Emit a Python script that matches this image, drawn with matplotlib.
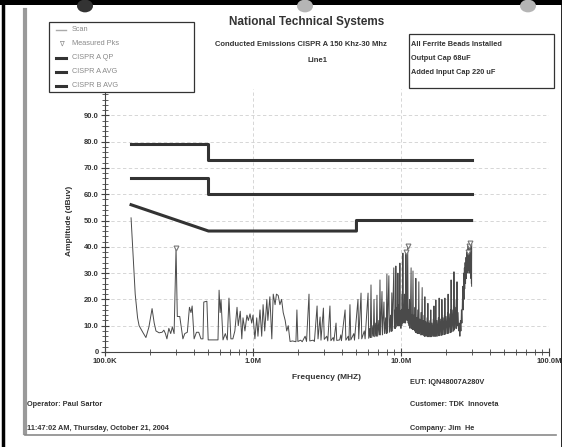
import matplotlib
matplotlib.use("Agg")
import matplotlib.pyplot as plt
from matplotlib.patches import Rectangle, Circle
from matplotlib.lines import Line2D
from matplotlib.ticker import FixedLocator, NullFormatter

plt.rcParams["font.family"] = ["Liberation Sans", "DejaVu Sans"]
plt.rcParams["font.weight"] = "bold"

W, H = 562, 447

# scan trace as (MHz, dBuV) pairs
scan_low = [
    (0.150, 51.0), (0.155, 36.0), (0.160, 22.0), (0.166, 13.0), (0.170, 10.0),
    (0.180, 7.5), (0.189, 5.5), (0.198, 9.5), (0.208, 16.5), (0.215, 11.0),
    (0.221, 8.0), (0.232, 7.3), (0.243, 7.5), (0.250, 8.3), (0.256, 7.0),
    (0.262, 5.0), (0.270, 9.0), (0.278, 7.0), (0.285, 9.5), (0.293, 7.0),
    (0.302, 39.5), (0.308, 13.5), (0.320, 13.5), (0.336, 5.0), (0.346, 7.0),
    (0.360, 7.5), (0.372, 17.0), (0.381, 15.0), (0.388, 17.5), (0.400, 5.0),
    (0.415, 7.5), (0.430, 7.5), (0.445, 5.0), (0.459, 5.0), (0.465, 19.0),
    (0.488, 19.3), (0.498, 4.6), (0.580, 4.6), (0.590, 23.5), (0.600, 15.0),
    (0.608, 20.0), (0.627, 4.6), (0.650, 7.0), (0.670, 4.6), (0.688, 20.5),
    (0.709, 5.0), (0.731, 5.0), (0.754, 8.0), (0.780, 17.0), (0.795, 10.0),
    (0.820, 15.5), (0.840, 5.0), (0.856, 13.0), (0.882, 8.0), (0.910, 14.0),
    (0.930, 12.0), (0.955, 14.5), (0.980, 11.0), (1.000, 14.0), (1.030, 5.0),
    (1.060, 13.0), (1.080, 6.0), (1.115, 16.0), (1.145, 6.0), (1.170, 18.0),
    (1.200, 8.0), (1.240, 20.0), (1.260, 12.0), (1.300, 21.0), (1.340, 5.0),
    (1.370, 22.0), (1.410, 18.0), (1.440, 22.0), (1.480, 21.5), (1.520, 18.0),
    (1.560, 20.0), (1.600, 15.0), (1.650, 12.0), (1.690, 8.0), (1.730, 10.0),
    (1.780, 4.0), (1.850, 4.2), (1.950, 3.9), (1.980, 16.0), (2.010, 4.0),
    (2.100, 4.5), (2.150, 3.9), (2.250, 6.0), (2.300, 4.0), (2.390, 22.0),
    (2.420, 4.2), (2.550, 4.5), (2.600, 4.0), (2.710, 17.5), (2.750, 5.0),
    (2.840, 13.3), (2.880, 4.5), (2.990, 16.7), (3.030, 4.8), (3.150, 6.0),
    (3.200, 4.2), (3.310, 17.5), (3.360, 4.3), (3.480, 5.5), (3.520, 4.2),
    (3.640, 11.0), (3.680, 4.4), (3.850, 4.6), (3.920, 6.5), (3.960, 4.3),
    (4.190, 16.0), (4.240, 4.5), (4.400, 6.0), (4.450, 4.4), (4.520, 18.0),
    (4.580, 4.6), (4.800, 7.0), (4.850, 4.5), (5.120, 20.0), (5.180, 5.0),
    (5.370, 22.4), (5.430, 5.0), (5.650, 8.0), (5.720, 5.0), (5.990, 22.4),
    (6.050, 5.2), (6.150, 9.0), (6.200, 5.5), (6.270, 25.5), (6.340, 5.5),
    (6.450, 10.0), (6.500, 6.0), (6.570, 20.0), (6.640, 5.8), (6.750, 11.0),
    (6.800, 6.0), (6.880, 21.6), (6.950, 6.0), (7.080, 12.0), (7.140, 6.5),
    (7.210, 27.4), (7.280, 6.5), (7.440, 23.0), (7.500, 6.5), (7.670, 19.0),
    (7.740, 7.0), (7.880, 13.0), (7.950, 7.0), (8.030, 29.6), (8.100, 7.2),
    (8.280, 29.0), (8.350, 7.5), (8.500, 14.0), (8.580, 7.8), (8.670, 22.5),
    (8.740, 8.0), (8.940, 32.0), (9.020, 9.0), (9.120, 16.0), (9.180, 9.0),
    (9.230, 32.7), (9.300, 9.5), (9.420, 17.0), (9.480, 10.0), (9.530, 30.0),
    (9.600, 10.0), (9.700, 18.0), (9.760, 10.0), (9.830, 33.8),
]
scan_high = [
    (9.88, 10.0), (9.93, 15.0), (9.98, 9.0), (10.05, 16.0), (10.12, 10.0),
    (10.18, 22.0), (10.24, 11.0), (10.30, 37.6), (10.36, 12.0), (10.42, 18.0),
    (10.48, 11.0), (10.55, 22.0), (10.62, 12.0), (10.68, 17.0), (10.74, 11.0),
    (10.80, 38.0), (10.86, 13.0), (10.92, 19.0), (10.98, 12.0), (11.10, 40.3),
    (11.18, 11.0), (11.26, 16.0), (11.34, 10.0), (11.42, 20.0), (11.50, 9.0),
    (11.58, 15.0), (11.70, 32.0), (11.78, 9.0), (11.86, 14.0), (11.94, 8.5),
    (12.05, 30.8), (12.14, 8.5), (12.24, 14.0), (12.34, 8.0), (12.44, 17.0),
    (12.52, 7.5), (12.60, 28.0), (12.68, 7.5), (12.78, 13.0), (12.88, 7.0),
    (12.98, 16.0), (13.08, 7.0), (13.20, 26.7), (13.28, 7.0), (13.40, 12.5),
    (13.52, 6.5), (13.64, 15.0), (13.76, 6.5), (13.90, 24.5), (13.98, 6.5),
    (14.10, 12.0), (14.22, 6.2), (14.35, 14.0), (14.42, 6.0), (14.50, 21.0),
    (14.58, 6.0), (14.72, 11.5), (14.86, 6.0), (15.00, 13.0), (15.10, 5.8),
    (15.20, 18.5), (15.30, 5.8), (15.45, 11.0), (15.60, 5.8), (15.75, 12.0),
    (15.82, 5.8), (15.90, 16.0), (16.00, 5.8), (16.18, 11.0), (16.35, 6.0),
    (16.52, 12.5), (16.62, 6.0), (16.70, 17.5), (16.80, 6.0), (16.95, 12.0),
    (17.08, 6.0), (17.20, 19.8), (17.32, 6.0), (17.50, 12.0), (17.68, 6.0),
    (17.88, 13.0), (18.00, 6.2), (18.10, 20.5), (18.22, 6.2), (18.42, 12.5),
    (18.60, 6.3), (18.78, 13.5), (18.84, 6.4), (18.90, 20.0), (19.02, 6.5),
    (19.25, 13.0), (19.45, 6.6), (19.65, 14.0), (19.72, 6.7), (19.80, 20.5),
    (19.92, 6.8), (20.15, 13.5), (20.40, 7.0), (20.62, 15.0), (20.70, 7.0),
    (20.80, 22.0), (20.92, 7.2), (21.15, 14.5), (21.40, 7.3), (21.62, 16.0),
    (21.70, 7.5), (21.80, 27.4), (21.92, 7.6), (22.15, 16.0), (22.40, 7.8),
    (22.62, 18.0), (22.70, 8.0), (22.80, 30.5), (22.92, 8.5), (23.15, 17.0),
    (23.40, 9.0), (23.65, 20.0), (23.75, 9.0), (23.90, 26.7), (24.05, 10.0),
    (24.30, 15.0), (24.55, 8.0), (24.80, 11.0), (25.00, 6.0), (25.20, 12.0),
    (25.40, 8.0), (25.60, 16.0), (25.80, 11.0), (26.00, 20.0), (26.20, 25.0),
    (26.35, 16.0), (26.50, 30.0), (26.65, 20.0), (26.80, 32.0), (26.95, 24.0),
    (27.10, 34.0), (27.30, 26.0), (27.50, 36.0), (27.65, 28.0), (27.80, 38.0),
    (27.95, 30.0), (28.10, 39.0), (28.25, 31.0), (28.40, 40.7), (28.55, 32.0),
    (28.70, 40.0), (28.85, 30.0), (29.00, 39.0), (29.10, 33.0), (29.20, 41.5),
    (29.35, 30.0), (29.50, 39.0), (29.65, 28.0), (29.80, 40.0), (29.90, 26.0),
    (30.00, 40.7), (30.00, 25.0),
]

# measured peaks
pk_freq = [0.302, 10.8, 11.1, 28.4, 28.8, 29.2]
pk_amp = [39.5, 38.0, 40.3, 38.0, 40.3, 41.5]

# limit lines
qp_a_freq = [0.15, 0.5, 0.5, 30.0]
qp_a_amp = [79.0, 79.0, 73.0, 73.0]
avg_a_freq = [0.15, 0.5, 0.5, 30.0]
avg_a_amp = [66.0, 66.0, 60.0, 60.0]
avg_b_freq = [0.15, 0.5, 5.0, 5.0, 30.0]
avg_b_amp = [56.0, 46.0, 46.0, 50.0, 50.0]

x_ticks = [0.1, 1.0, 10.0, 100.0]
x_labels = ["100.0K", "1.0M", "10.0M", "100.0M"]
y_ticks = [0, 10, 20, 30, 40, 50, 60, 70, 80, 90]
y_labels = ["0", "10.0", "20.0", "30.0", "40.0", "50.0", "60.0", "70.0", "80.0", "90.0"]

legend_labels = ["Scan", "Measured Pks", "CISPR A QP", "CISPR A AVG", "CISPR B AVG"]
note_lines = ["All Ferrite Beads Installed", "Output Cap 68uF", "Added Input Cap 220 uF"]


def fx(x):
    return x / W


def fy(y):
    return 1 - y / H


def main():
    fig = plt.figure(figsize=(W / 100, H / 100), dpi=100)
    fig.patch.set_facecolor("white")

    # page frame / scan artefacts
    fig.add_artist(Rectangle((0, fy(5)), 1, 5 / H, transform=fig.transFigure,
                             color="black", lw=0))
    fig.add_artist(Line2D([fx(2.5), fx(2.5)], [0, 1], transform=fig.transFigure, color="black", lw=2.5))
    fig.add_artist(Line2D([fx(561.5), fx(561.5)], [0, 1], transform=fig.transFigure, color="black", lw=1.2))
    fig.add_artist(Line2D([fx(25), fx(25)], [fy(433), fy(10)], transform=fig.transFigure,
                          color="#9a9a9a", lw=3))
    fig.add_artist(Line2D([fx(25), fx(556)], [fy(435), fy(435)], transform=fig.transFigure,
                          color="#8a8a8a", lw=1.2))
    for cx, col in [(85, "#333333"), (305, "#b5b5b5"), (528, "#b5b5b5")]:
        fig.add_artist(Circle((fx(cx), fy(6)), 8 / W, transform=fig.transFigure,
                              color=col, lw=0))

    ax = fig.add_axes([fx(105), fy(352), fx(549) - fx(105), fy(89) - fy(352)])
    ax.set_xscale("log")
    ax.set_xlim(0.1, 100)
    ax.set_ylim(0, 100)
    ax.patch.set_alpha(0)

    scan_freq = [f for f, _ in scan_low + scan_high]
    scan_amp = [a for _, a in scan_low + scan_high]

    ax.grid(True, which="major", color="#d0d0d0", ls=(0, (4, 3)), lw=0.6)
    ax.plot(scan_freq, scan_amp, color="#4a4a4a", lw=0.7)
    ax.plot(qp_a_freq, qp_a_amp, color="#333333", lw=2.2)
    ax.plot(avg_a_freq, avg_a_amp, color="#333333", lw=2.2)
    ax.plot(avg_b_freq, avg_b_amp, color="#333333", lw=2.2)
    ax.plot(pk_freq, pk_amp, ls="none", marker="v", ms=3.5, mfc="white",
            mec="#777777", mew=0.8)

    for s in ["top", "right"]:
        ax.spines[s].set_visible(False)
    for s in ["left", "bottom"]:
        ax.spines[s].set_color("#444444")
        ax.spines[s].set_linewidth(0.8)

    ax.set_xticks(x_ticks)
    ax.set_xticklabels(x_labels)
    minor_x = [m * d for d in [0.1, 1.0, 10.0] for m in range(2, 10)]
    ax.xaxis.set_minor_locator(FixedLocator(minor_x))
    ax.xaxis.set_minor_formatter(NullFormatter())
    ax.set_yticks(y_ticks)
    ax.set_yticklabels(y_labels)
    ax.yaxis.set_minor_locator(FixedLocator(range(0, 101, 2)))
    ax.tick_params(which="major", direction="inout", length=6, width=0.8,
                   color="#444444", labelsize=5.5, labelcolor="#333333", pad=1.5)
    ax.tick_params(which="minor", direction="inout", length=4, width=0.6, color="#444444")
    for lab in ax.get_xticklabels() + ax.get_yticklabels():
        lab.set_fontweight("bold")

    ax.set_xlabel("Frequency (MHZ)", fontsize=6, fontweight="bold", color="#333333", labelpad=6)
    ax.set_ylabel("Amplitude (dBuv)", fontsize=6, fontweight="bold", color="#333333", labelpad=8)

    # titles
    fig.text(fx(307), fy(22), "National Technical Systems", fontsize=8.5, fontweight="bold",
             ha="center", va="center", color="#333333")
    fig.text(fx(301), fy(44), "Conducted Emissions CISPR A 150 Khz-30 Mhz", fontsize=5.5,
             fontweight="bold", ha="center", va="center", color="#333333")
    fig.text(fx(318), fy(61), "Line1", fontsize=5.5, fontweight="bold",
             ha="center", va="center", color="#333333")

    # legend box
    fig.add_artist(Rectangle((fx(49), fy(92)), fx(194) - fx(49), fy(22) - fy(92),
                             transform=fig.transFigure, fc="white", ec="#333333", lw=0.9,
                             zorder=5))
    styles = [("line", "#aaaaaa", 1.0), ("marker", "#888888", 0), ("line", "#333333", 2.2),
              ("line", "#333333", 2.2), ("line", "#333333", 2.2)]
    for i, (label, (kind, col, lw)) in enumerate(zip(legend_labels, styles)):
        y = fy(29.5 + 14 * i)
        if kind == "line":
            fig.add_artist(Line2D([fx(56), fx(66)], [y, y], transform=fig.transFigure,
                                  color=col, lw=lw, zorder=6))
        else:
            fig.text(fx(61), y, "\u2207", fontsize=5, color=col, ha="center", va="center",
                     fontweight="normal", family=["DejaVu Sans"], zorder=6)
        fig.text(fx(72), y, label, fontsize=5.3, color="#8a8a8a", ha="left", va="center",
                 fontweight="normal", zorder=6)

    # notes box
    fig.add_artist(Rectangle((fx(409), fy(88)), fx(554) - fx(409), fy(34) - fy(88),
                             transform=fig.transFigure, fill=False, ec="#333333", lw=0.9))
    for i, line in enumerate(note_lines):
        fig.text(fx(411), fy(44 + 14 * i), line, fontsize=5.3, fontweight="bold",
                 ha="left", va="center", color="#333333")

    # footer
    footer = [
        (410, 382, "EUT: IQN48007A280V"),
        (27, 405, "Operator: Paul Sartor"),
        (410, 405, "Customer: TDK  Innoveta"),
        (27, 428, "11:47:02 AM, Thursday, October 21, 2004"),
        (410, 428, "Company: Jim  He"),
    ]
    for x, y, s in footer:
        fig.text(fx(x), fy(y), s, fontsize=5.3, fontweight="bold", ha="left", va="center",
                 color="#333333")

    fig.savefig("out.png", dpi=100)
    plt.close(fig)


if __name__ == "__main__":
    main()
